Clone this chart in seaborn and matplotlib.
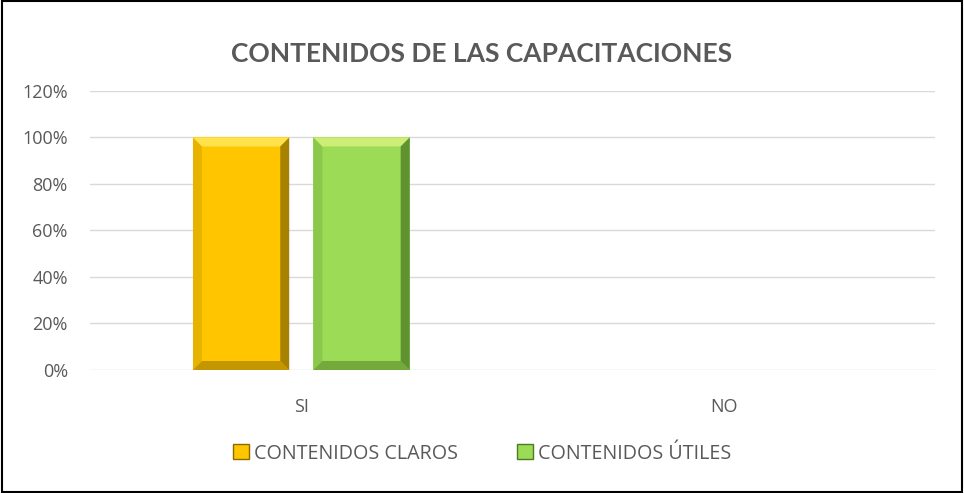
import matplotlib
matplotlib.use("Agg")
import matplotlib.pyplot as plt
import seaborn as sns
import pandas as pd
from matplotlib.patches import Polygon, Rectangle
from matplotlib.ticker import FuncFormatter

# Datos
categorias = ["SI", "NO"]
series = ["CONTENIDOS CLAROS", "CONTENIDOS ÚTILES"]
claros = [1.0, 0.0]
utiles = [1.0, 0.0]
colores = ["#FFC600", "#9BDB55"]
claros_osc = ["#8A6A00", "#4E7A25"]

df = pd.DataFrame({
    "Respuesta": categorias * 2,
    "Serie": [series[0]] * 2 + [series[1]] * 2,
    "Valor": claros + utiles,
})

sns.set_style("white")
plt.rcParams['font.family'] = ['Open Sans', 'DejaVu Sans']

fig = plt.figure(figsize=(9.64, 4.93), dpi=100)
ax = fig.add_axes([0.0934, 0.2495, 0.8766, 0.566])

sns.barplot(data=df, x="Respuesta", y="Valor", hue="Serie", palette=colores,
            width=0.57, gap=0.2, ax=ax, legend=False, saturation=1,
            edgecolor="none", zorder=3)

ax.set_ylim(0, 1.2)
ax.set_xlim(-0.5, 1.5)
ax.set_yticks([0, 0.2, 0.4, 0.6, 0.8, 1.0, 1.2])
ax.yaxis.set_major_formatter(FuncFormatter(lambda v, _: f"{v*100:.0f}%"))
ax.grid(axis="y", color="#D9D9D9", linewidth=1, zorder=0)
for s in ax.spines.values():
    s.set_visible(False)
ax.tick_params(axis="both", length=0, labelsize=13, labelcolor="#595959")
ax.tick_params(axis="y", pad=16)
ax.tick_params(axis="x", pad=20)
ax.set_xlabel("")
ax.set_ylabel("")

# Efecto biselado sobre las barras
bev_px = 9
for i, p in enumerate(ax.patches):
    h = p.get_height()
    if h <= 0:
        continue
    k = 0 if p.get_facecolor()[1] < 0.8 else 1
    x0, y0 = p.get_x(), p.get_y()
    w = p.get_width()
    disp = ax.transData
    (X0, Y0) = disp.transform((x0, y0))
    (X1, Y1) = disp.transform((x0 + w, y0 + h))
    b = bev_px
    inv = disp.inverted()
    def P(pts):
        return [inv.transform(q) for q in pts]
    dark = claros_osc[k]
    caras = [
        ([(X0, Y1), (X1, Y1), (X1 - b, Y1 - b), (X0 + b, Y1 - b)], "#FFFF99", 0.5),
        ([(X1, Y1), (X1, Y0), (X1 - b, Y0 + b), (X1 - b, Y1 - b)], dark, 0.75),
        ([(X0, Y0), (X1, Y0), (X1 - b, Y0 + b), (X0 + b, Y0 + b)], dark, 0.5),
        ([(X0, Y0), (X0, Y1), (X0 + b, Y1 - b), (X0 + b, Y0 + b)], dark, 0.2),
    ]
    for pts, c, a in caras:
        ax.add_patch(Polygon(P(pts), closed=True, facecolor=c, alpha=a,
                             edgecolor="none", zorder=4))

fig.suptitle("CONTENIDOS DE LAS CAPACITACIONES", x=0.5, y=0.915, fontsize=19,
             fontweight="bold", color="#595959", family=['Lato', 'DejaVu Sans'])

handles = [Rectangle((0, 0), 1, 1, facecolor=c, edgecolor=o, linewidth=1)
           for c, o in zip(colores, claros_osc)]
fig.legend(handles, series, loc="center", bbox_to_anchor=(0.5, 0.08), ncol=2,
           frameon=False, fontsize=14.2, labelcolor="#595959", handlelength=0.8,
           handleheight=0.8, handletextpad=0.25, columnspacing=3.0)

# Borde de la figura
fig.patches.append(Rectangle((0.002, 0.003), 0.996, 0.994, transform=fig.transFigure,
                             fill=False, edgecolor="black", linewidth=1.5))

fig.savefig("out.png", dpi=100)
